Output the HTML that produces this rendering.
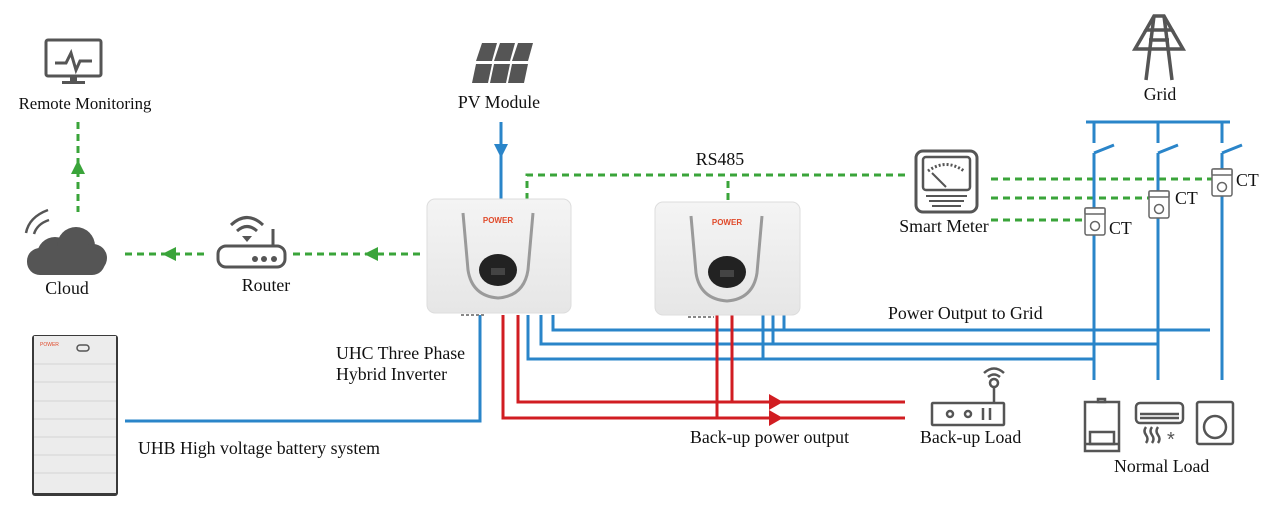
<!DOCTYPE html>
<html><head><meta charset="utf-8"><style>
html,body{margin:0;padding:0;background:#fff;}
svg{display:block;font-family:"Liberation Serif",serif;}
</style></head><body>
<svg width="1275" height="519" viewBox="0 0 1275 519" xmlns="http://www.w3.org/2000/svg">
<defs>
<linearGradient id="ig" x1="0" y1="0" x2="0" y2="1"><stop offset="0" stop-color="#f4f4f4"/><stop offset="1" stop-color="#e6e6e6"/></linearGradient>
</defs>
<g font-size="17.8" fill="#111">
<text x="85" y="109" text-anchor="middle" font-size="16.8">Remote Monitoring</text>
<text x="67" y="294" text-anchor="middle">Cloud</text>
<text x="266" y="291" text-anchor="middle">Router</text>
<text x="499" y="108" text-anchor="middle">PV Module</text>
<text x="720" y="165" text-anchor="middle">RS485</text>
<text x="1160" y="100" text-anchor="middle">Grid</text>
<text x="944" y="232" text-anchor="middle">Smart Meter</text>
<text x="1109" y="234">CT</text>
<text x="1175" y="204">CT</text>
<text x="1236" y="186">CT</text>
<text x="888" y="319">Power Output to Grid</text>
<text x="336" y="359">UHC Three Phase</text>
<text x="336" y="380">Hybrid Inverter</text>
<text x="138" y="454">UHB  High voltage battery system</text>
<text x="690" y="443">Back-up power output</text>
<text x="920" y="443">Back-up Load</text>
<text x="1114" y="472">Normal Load</text>
</g>

<!-- green dashed -->
<g stroke="#3aa43a" stroke-width="3" stroke-dasharray="7,5" fill="none">
<path d="M78 122 V212"/>
<path d="M125 254 H205 M293 254 H420"/>
<path d="M527 200 V175 H905"/>
<path d="M728 200 V178"/>
<path d="M991 179 H1212 M991 198 H1150 M991 220 H1085"/>
</g>
<g fill="#3aa43a">
<polygon points="78,160 71,174 85,174"/>
<polygon points="162,254 176,247 176,261"/>
<polygon points="364,254 378,247 378,261"/>
</g>

<!-- blue lines -->
<g stroke="#2a85c9" stroke-width="3" fill="none">
<path d="M501 122 V200"/>
<path d="M125 421 H480 V315"/>
<path d="M553 315 V330 H1210"/>
<path d="M541 315 V344 H1158"/>
<path d="M528 315 V359 H1093"/>
<path d="M763 315 V359 M773 315 V344 M784 315 V330"/>
<path d="M1086 122 H1230 M1094 122 V143 M1158 122 V143 M1222 122 V143"/>
<path d="M1094 153 V380 M1158 153 V380 M1222 153 V380"/>
<path d="M1094 153 L1114 145 M1158 153 L1178 145 M1222 153 L1242 145"/>
</g>
<polygon points="501,158 494,144 508,144" fill="#2a85c9"/>

<!-- red lines -->
<g stroke="#d11d22" stroke-width="3" fill="none">
<path d="M518 315 V402 H905"/>
<path d="M503 315 V418 H905"/>
<path d="M717 315 V418 M732 315 V402"/>
</g>
<g fill="#d11d22">
<polygon points="783,402 769,394 769,410"/>
<polygon points="783,418 769,410 769,426"/>
</g>

<!-- inverters -->
<g>
<rect x="427" y="199" width="144" height="114" rx="8" fill="url(#ig)" stroke="#ddd"/>
<path d="M463 213 L468 270 Q472 296 498 298 Q524 296 528 270 L533 213" fill="none" stroke="#9a9a9a" stroke-width="3"/>
<ellipse cx="498" cy="270" rx="19" ry="16" fill="#222"/>
<rect x="491" y="268" width="14" height="7" fill="#444"/>
<text x="498" y="223" font-family="Liberation Sans,sans-serif" font-size="8" font-weight="bold" fill="#e04a2a" text-anchor="middle">POWER</text>
<path d="M461 315 H486" stroke="#888" stroke-width="2" stroke-dasharray="3,2"/>
<rect x="655" y="202" width="145" height="113" rx="8" fill="url(#ig)" stroke="#ddd"/>
<path d="M691 216 L696 273 Q700 299 727 301 Q753 299 757 273 L762 216" fill="none" stroke="#9a9a9a" stroke-width="3"/>
<ellipse cx="727" cy="272" rx="19" ry="16" fill="#222"/>
<rect x="720" y="270" width="14" height="7" fill="#444"/>
<text x="727" y="225" font-family="Liberation Sans,sans-serif" font-size="8" font-weight="bold" fill="#e04a2a" text-anchor="middle">POWER</text>
<path d="M688 317 H714" stroke="#888" stroke-width="2" stroke-dasharray="3,2"/>
</g>

<!-- battery -->
<g>
<rect x="32" y="335" width="86" height="161" rx="3" fill="#3a3a3a"/>
<rect x="34" y="336" width="82" height="157" fill="#ececec"/>
<g stroke="#d4d4d4" stroke-width="1"><path d="M34 364H116 M34 382H116 M34 401H116 M34 419H116 M34 437H116 M34 455H116 M34 473H116"/></g>
<rect x="77" y="345" width="12" height="6" rx="3" fill="none" stroke="#555" stroke-width="1.5"/>
<text x="40" y="346" font-family="Liberation Sans,sans-serif" font-size="5" fill="#e04a2a">POWER</text>
</g>

<!-- monitor -->
<g fill="none" stroke="#555" stroke-width="3">
<rect x="46" y="40" width="55" height="36" rx="2"/>
<path d="M55 63 H66 L71 53 L76 70 L80 61 H92"/>
</g>
<rect x="70" y="76" width="7" height="5" fill="#555"/><rect x="62" y="81" width="23" height="3" fill="#555"/>

<!-- cloud -->
<g fill="#555">
<circle cx="55" cy="255" r="18"/><circle cx="76" cy="246" r="19"/><circle cx="93" cy="258" r="14"/>
<rect x="27" y="248" width="78" height="27" rx="13"/>
</g>
<g fill="none" stroke="#555" stroke-width="2.5"><path d="M26 233 Q29 217 48 210"/><path d="M34 234 Q37 224 49 220"/></g>

<!-- router -->
<g fill="none" stroke="#555" stroke-width="3">
<rect x="218" y="246" width="67" height="21" rx="8"/>
<path d="M273 246 V229"/>
<path d="M231 225 Q247 210 263 225"/><path d="M237 231 Q247 222 257 231"/>
</g>
<polygon points="242,236 252,236 247,242" fill="#555"/>
<g fill="#555"><circle cx="255" cy="259" r="3"/><circle cx="264" cy="259" r="3"/><circle cx="274" cy="259" r="3"/></g>

<!-- PV -->
<g fill="#555">
<polygon points="482,43 497,43 492,61 476,61"/><polygon points="500,43 515,43 510,61 494,61"/><polygon points="518,43 533,43 528,61 512,61"/>
<polygon points="476,64 492,64 488,83 472,83"/><polygon points="494,64 510,64 506,83 490,83"/><polygon points="512,64 528,64 524,83 508,83"/>
</g>

<!-- grid tower -->
<g fill="none" stroke="#555" stroke-width="3.5">
<path d="M1154 16 H1164 L1172 30 H1146 Z"/>
<path d="M1146 30 L1135 49 H1183 L1172 30"/>
<path d="M1154 16 L1146 80 M1164 16 L1172 80 M1149 40 H1169"/>
</g>

<!-- smart meter -->
<g fill="none" stroke="#555" stroke-width="3">
<rect x="916" y="151" width="61" height="61" rx="7"/>
<rect x="923" y="157" width="47" height="33" rx="3" stroke-width="2.5"/>
<path d="M928 171 Q946 158 964 171" stroke-dasharray="2,2" stroke-width="3"/>
<path d="M932 173 L946 187" stroke-width="2"/>
<path d="M926 196 H967 M929 201 H964 M932 206 H961" stroke-width="2"/>
</g>

<!-- CTs -->
<g fill="#fff" stroke="#666" stroke-width="1.5">
<rect x="1085" y="208" width="20" height="27" rx="2"/><rect x="1085" y="208" width="20" height="6" rx="1"/><circle cx="1095" cy="226" r="4.5"/>
<rect x="1149" y="191" width="20" height="27" rx="2"/><rect x="1149" y="191" width="20" height="6" rx="1"/><circle cx="1159" cy="209" r="4.5"/>
<rect x="1212" y="169" width="20" height="27" rx="2"/><rect x="1212" y="169" width="20" height="6" rx="1"/><circle cx="1222" cy="187" r="4.5"/>
</g>

<!-- backup load -->
<g fill="none" stroke="#555" stroke-width="2.5">
<rect x="932" y="403" width="72" height="22" rx="1"/>
<path d="M994 403 V387"/><circle cx="994" cy="383" r="4"/>
<path d="M984 373 Q994 364 1004 373"/><path d="M988 377 Q994 372 1000 377"/>
<circle cx="950" cy="414" r="3"/><circle cx="968" cy="414" r="3"/><path d="M983 408 V420 M990 408 V420"/>
</g>

<!-- normal loads -->
<g fill="none" stroke="#555" stroke-width="2.5">
<rect x="1085" y="402" width="34" height="49"/><rect x="1098" y="399" width="7" height="3"/>
<rect x="1090" y="432" width="24" height="12"/><path d="M1085 444 H1119"/>
<rect x="1136" y="403" width="47" height="20" rx="4"/><path d="M1140 414 H1179 M1140 418 H1179"/>
<path d="M1146 427 q-3 4 0 8 q3 4 0 8 M1152 427 q-3 4 0 8 q3 4 0 8 M1158 427 q-3 4 0 8 q3 4 0 8"/>
<rect x="1197" y="402" width="36" height="42" rx="2"/><circle cx="1215" cy="427" r="11"/>
</g>
<text x="1167" y="446" font-size="20" fill="#555" font-family="Liberation Sans,sans-serif">*</text>
</svg>
</body></html>
